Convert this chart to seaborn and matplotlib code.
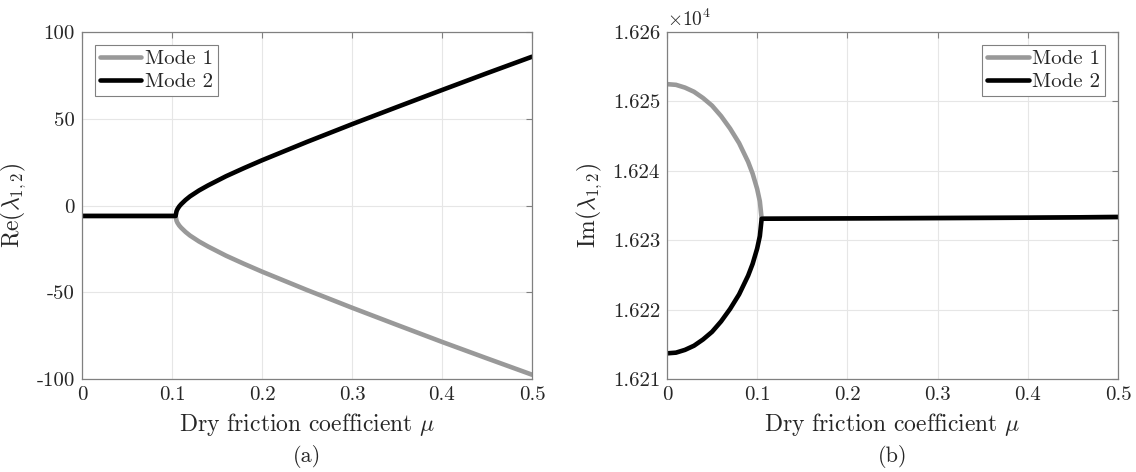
import numpy as np
import pandas as pd
import seaborn as sns
import matplotlib.pyplot as plt
from matplotlib.ticker import FuncFormatter

# Panel (a): real part of eigenvalues vs dry friction coefficient
mu_re = [0.0, 0.05, 0.104, 0.105, 0.106, 0.108, 0.11, 0.115, 0.12, 0.13, 0.14,
         0.16, 0.18, 0.2, 0.25, 0.3, 0.35, 0.4, 0.45, 0.5]
re_mode1 = [-6, -6, -6, -8.7, -9.9, -11.5, -12.7, -15.2, -17.3, -20.7, -23.6,
            -28.9, -33.6, -38.1, -48.7, -58.9, -68.8, -78.6, -88.1, -97.5]
re_mode2 = [-6, -6, -6, -3.3, -2.1, -0.5, 0.7, 3.2, 5.3, 8.7, 11.6,
            16.9, 21.6, 26.1, 36.7, 46.9, 56.8, 66.6, 76.3, 85.8]

# Panel (b): imaginary part of eigenvalues
mu_im = [0.0, 0.01, 0.02, 0.03, 0.04, 0.05, 0.06, 0.07, 0.08, 0.09, 0.095,
         0.1, 0.103, 0.105, 0.2, 0.3, 0.4, 0.5]
im_mode1 = [16252.5, 16252.4, 16252.0, 16251.4, 16250.5, 16249.4, 16247.9,
            16246.1, 16244.0, 16241.3, 16239.6, 16237.4, 16235.6, 16233.1,
            16233.15, 16233.2, 16233.25, 16233.35]
im_mode2 = [16213.7, 16213.8, 16214.2, 16214.8, 16215.7, 16216.8, 16218.3,
            16220.1, 16222.2, 16224.9, 16226.6, 16228.8, 16230.6, 16233.1,
            16233.15, 16233.2, 16233.25, 16233.35]

modes = ['Mode 1', 'Mode 2']
colors = {'Mode 1': '#999999', 'Mode 2': '#000000'}

re_df = pd.DataFrame({
    'mu': mu_re + mu_re,
    'val': re_mode1 + re_mode2,
    'mode': ['Mode 1'] * len(mu_re) + ['Mode 2'] * len(mu_re),
})
im_df = pd.DataFrame({
    'mu': mu_im + mu_im,
    'val': im_mode1 + im_mode2,
    'mode': ['Mode 1'] * len(mu_im) + ['Mode 2'] * len(mu_im),
})

sns.set_style('white')
plt.rcParams['font.family'] = 'serif'
plt.rcParams['font.serif'] = ['cmr10']
plt.rcParams['mathtext.fontset'] = 'cm'
plt.rcParams['axes.unicode_minus'] = False
plt.rcParams['axes.formatter.use_mathtext'] = True

fig = plt.figure(figsize=(11.36, 4.72), dpi=100)
ax1 = fig.add_axes([0.0722, 0.197, 0.3961, 0.735])
ax2 = fig.add_axes([0.5871, 0.197, 0.397, 0.735])

sns.lineplot(data=re_df, x='mu', y='val', hue='mode', hue_order=modes,
             palette=colors, lw=3.3, ax=ax1, estimator=None)
sns.lineplot(data=im_df, x='mu', y='val', hue='mode', hue_order=modes,
             palette=colors, lw=3.3, ax=ax2, estimator=None)

for ax in (ax1, ax2):
    ax.set_xlim(0, 0.5)
    ax.set_xticks([0, 0.1, 0.2, 0.3, 0.4, 0.5])
    ax.xaxis.set_major_formatter(FuncFormatter(lambda v, p: f'{v:g}'))
    ax.grid(True, color='#e6e6e6', lw=0.8)
    ax.set_axisbelow(True)
    for s in ax.spines.values():
        s.set_visible(True)
        s.set_color('#808080')
        s.set_linewidth(0.9)
    ax.tick_params(direction='in', length=4, width=0.8, color='#808080',
                   labelsize=15, top=True, right=True, pad=5)
    ax.set_xlabel(r'Dry friction coefficient $\mu$', fontsize=17, labelpad=5)

ax1.set_ylim(-100, 100)
ax1.set_yticks([-100, -50, 0, 50, 100])
ax1.yaxis.set_major_formatter(FuncFormatter(lambda v, p: f'{v:g}'))
ax1.set_ylabel(r'$\mathrm{Re}(\lambda_{1,2})$', fontsize=17, labelpad=6)

ax2.set_ylim(16210, 16260)
ax2.set_yticks([16210, 16220, 16230, 16240, 16250, 16260])
ax2.yaxis.set_major_formatter(FuncFormatter(lambda v, p: f'{v / 1e4:.3f}'))
ax2.set_ylabel(r'$\mathrm{Im}(\lambda_{1,2})$', fontsize=17, labelpad=6)
ax2.text(0.0, 1.005, r'$\times 10^4$', transform=ax2.transAxes,
         fontsize=14, ha='left', va='bottom')

for ax, loc in ((ax1, 'upper left'), (ax2, 'upper right')):
    leg = ax.legend(loc=loc, fontsize=15, handlelength=2.0, handletextpad=0.15,
                    borderaxespad=0.6, borderpad=0.25, labelspacing=0.2,
                    fancybox=False, framealpha=1, edgecolor='#808080')
    leg.get_frame().set_linewidth(0.8)

fig.text(0.2703, 0.032, '(a)', fontsize=16, ha='center', va='center')
fig.text(0.7856, 0.032, '(b)', fontsize=16, ha='center', va='center')

fig.savefig('out.png', dpi=100)
